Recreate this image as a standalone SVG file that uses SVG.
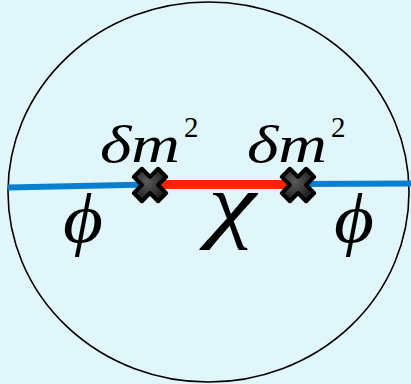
<svg xmlns="http://www.w3.org/2000/svg" width="411" height="384" viewBox="0 0 411 384">
<defs>
<radialGradient id="g" cx="0.4" cy="0.4" r="0.7">
<stop offset="0" stop-color="#5a5a5a"/>
<stop offset="1" stop-color="#151515"/>
</radialGradient>
<path id="x" d="M-12,-6 L-6,-12 L0,-6 L6,-12 L12,-6 L6,0 L12,6 L6,12 L0,6 L-6,12 L-12,6 L-6,0 Z" fill="url(#g)" stroke="#000" stroke-width="3" stroke-linejoin="round"/>
</defs>
<rect width="411" height="384" fill="#e1f6fa"/>
<g id="circle"><ellipse cx="208.5" cy="192" rx="200.5" ry="190" fill="none" stroke="#000" stroke-width="1.6"/></g>
<g id="connectors">
<path d="M8,187.5 L150,184.5" stroke="#0a7fd0" stroke-width="6" fill="none"/>
<path d="M150,184.5 L298,184.5" stroke="#ff2200" stroke-width="9" fill="none"/>
<path d="M298,184 L411,183.5" stroke="#0a7fd0" stroke-width="6" fill="none"/>
</g>
<g id="v1"><use href="#x" transform="translate(150,185) scale(1.35)"/></g>
<g id="v2"><use href="#x" transform="translate(298,185) scale(1.35)"/></g>
<g font-family="'Liberation Serif','Times New Roman',serif" fill="#000">
<g id="l1"><text x="100" y="162" font-size="52" font-style="italic" textLength="80" lengthAdjust="spacingAndGlyphs">δm</text><text x="184" y="137" font-size="29">2</text></g>
<g id="l2"><text x="247" y="162" font-size="52" font-style="italic" textLength="80" lengthAdjust="spacingAndGlyphs">δm</text><text x="331" y="137" font-size="29">2</text></g>
<g id="phi1"><text transform="translate(63,242) scale(1,1.25)" font-size="56" font-style="italic" textLength="40" lengthAdjust="spacingAndGlyphs">ϕ</text></g>
<g id="chi"><text transform="translate(208,232) scale(1,1.35)" font-size="62" font-style="italic" textLength="48" lengthAdjust="spacingAndGlyphs">χ</text></g>
<g id="phi2"><text transform="translate(334,242) scale(1,1.25)" font-size="56" font-style="italic" textLength="40" lengthAdjust="spacingAndGlyphs">ϕ</text></g>
</g>
</svg>
